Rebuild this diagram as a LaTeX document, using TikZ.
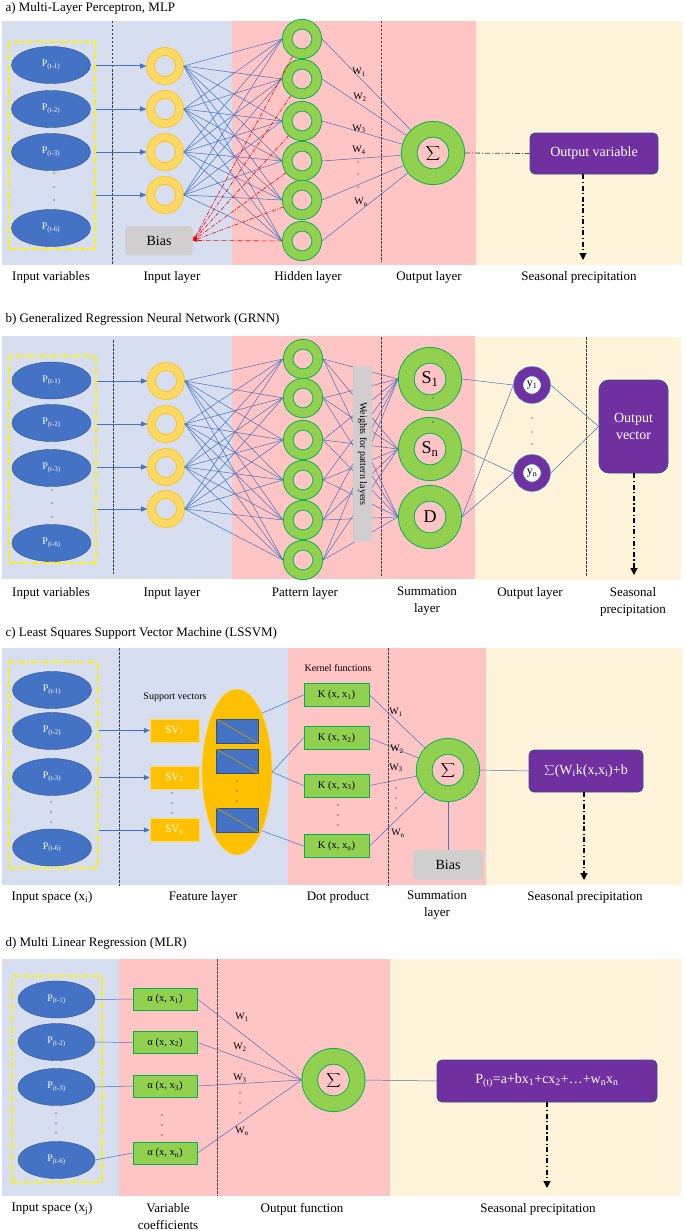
\documentclass[tikz,border=0pt]{standalone}
\usepackage{fontspec}
\setmainfont{Liberation Serif}
\usetikzlibrary{shapes.geometric,arrows.meta}

\definecolor{bgblue}{HTML}{D6DEEF}
\definecolor{bgpink}{HTML}{FFC4C4}
\definecolor{bgcream}{HTML}{FFF3D9}
\definecolor{ellblue}{HTML}{4472C4}
\definecolor{ellrim}{HTML}{2F528F}
\definecolor{ringyel}{HTML}{FFD966}
\definecolor{ringorg}{HTML}{FFC000}
\definecolor{ringgrn}{HTML}{92D050}
\definecolor{rimgrn}{HTML}{00B050}
\definecolor{boxpurp}{HTML}{7030A0}
\definecolor{boxgray}{HTML}{D0CECE}
\definecolor{wirebl}{HTML}{4472C4}

\newcommand{\bigsum}{{\fontsize{14}{14}\selectfont$\displaystyle\sum$}}

\tikzset{
	conn/.style={draw=wirebl, line width=0.5pt},
	feed/.style={draw=wirebl, line width=1pt, -{Triangle[length=6pt,width=5pt]}},
	biasline/.style={draw=red, line width=0.6pt, dash pattern=on 4pt off 1.5pt on 1pt off 1.5pt, -{Triangle[length=4pt,width=3pt]}},
	outflow/.style={draw=black, line width=1.2pt, dash pattern=on 5pt off 2.5pt on 1.2pt off 2.5pt, -{Triangle[length=7pt,width=7pt]}},
	linkline/.style={draw=black!70, line width=0.8pt, dash pattern=on 5pt off 2pt on 1pt off 2pt},
	sepline/.style={draw=black!75, line width=0.6pt, dash pattern=on 2.5pt off 1.5pt},
	pell/.style={ellipse, draw=ellrim, fill=ellblue, minimum width=79pt, minimum height=37pt, inner sep=0pt, text=white, font=\fontsize{10}{12}\selectfont},
	inframe/.style={draw=yellow, line width=1.2pt, dash pattern=on 6pt off 2pt on 1.5pt off 2pt, inner sep=0pt},
	yring/.style={circle, draw=ringorg, double=ringyel, double distance=7pt, line width=0.8pt, minimum size=29pt, inner sep=0pt, outer sep=4.3pt},
	gring/.style={circle, draw=rimgrn, double=ringgrn, double distance=8.8pt, line width=0.9pt, minimum size=29.5pt, inner sep=0pt, outer sep=5.3pt},
	sring/.style={circle, draw=rimgrn, double=ringgrn, double distance=14.8pt, line width=0.9pt, minimum size=47.5pt, inner sep=0pt, outer sep=8.3pt, font=\fontsize{18}{18}\selectfont},
	pring/.style={circle, draw=ellblue, fill=white, double=boxpurp, double distance=8.4pt, line width=0.8pt, minimum size=27.4pt, inner sep=0pt, outer sep=5pt, font=\fontsize{12}{12}\selectfont},
	outbox/.style={draw=ellrim, fill=boxpurp, rounded corners=5pt, text=white, font=\fontsize{14}{17}\selectfont, inner sep=0pt, line width=0.8pt, align=center},
	biasbox/.style={fill=boxgray, rounded corners=4pt, font=\fontsize{14}{16}\selectfont, inner sep=0pt},
	barbox/.style={fill=boxgray, rounded corners=2pt, font=\fontsize{10}{10}\selectfont, inner sep=0pt},
	svbox/.style={draw=ringyel, fill=ringorg, text=white, minimum width=49pt, minimum height=23pt, inner sep=0pt, font=\fontsize{11}{12}\selectfont},
	vecbox/.style={draw=ellrim, fill=ellblue, minimum width=42pt, minimum height=24pt, inner sep=0pt},
	diag/.style={draw=ringorg!80!black, line width=0.7pt},
	kbox/.style={draw=rimgrn, fill=ringgrn, line width=1pt, minimum width=65pt, minimum height=23pt, inner sep=0pt, font=\fontsize{10.5}{12}\selectfont},
	lbl/.style={font=\fontsize{13}{17}\selectfont, align=center},
	ttl/.style={font=\fontsize{13}{15}\selectfont, anchor=west},
	wlbl/.style={font=\fontsize{10}{12}\selectfont, inner sep=0pt},
	smalltxt/.style={font=\fontsize{10}{12}\selectfont},
}

\begin{document}
\begin{tikzpicture}[x=1pt,y=-1pt]
	\useasboundingbox (0,0) rectangle (685,1231);

	% a) MLP
	\node[ttl] (ttlA) at (2,8) {a) Multi-Layer Perceptron, MLP};
	\fill[bgblue] (2,21) rectangle (232,265);
	\fill[bgpink] (232,21) rectangle (476,265);
	\fill[bgcream] (476,21) rectangle (682,265);
	\draw[sepline] (112,21) -- (112,265);
	\draw[sepline] (381,21) -- (381,262);
	\node[inframe, minimum width=86pt, minimum height=207pt] (frameA) at (52,145.5) {};
	\foreach \i/\y/\t in {1/65/1,2/109/2,3/152/3,4/228/6}
		\node[pell] (pA\i) at (51,\y) {P\textsubscript{(t-\t)}};
	\foreach \y in {173,187,200} \fill (54,\y) circle (0.7pt);
	\foreach \i/\y in {1/66,2/109,3/152,4/195} {
		\node[yring] (inA\i) at (165,\y) {};
		\draw[feed] (frameA.east |- inA\i) -- (inA\i.west);
	}
	\foreach \j/\y in {1/39,2/79,3/121,4/161,5/200,6/241}
		\node[gring] (hidA\j) at (302,\y) {};
	\foreach \i in {1,...,4}
		\foreach \j in {1,...,6}
			\draw[conn] (inA\i.east) -- (hidA\j.west);
	\node[biasbox, minimum width=68pt, minimum height=29pt] (biasA) at (159,240.5) {Bias};
	\foreach \j in {1,...,6} \draw[biasline] (hidA\j) -- (biasA.east);
	\node[sring] (sumA) at (433,153) {\bigsum};
	\foreach \j in {1,...,6} \draw[conn] (hidA\j.east) -- (sumA);
	\node[wlbl] (wA1) at (359,72) {W\textsubscript{1}};
	\node[wlbl] (wA2) at (360,97) {W\textsubscript{2}};
	\node[wlbl] (wA3) at (359,129) {W\textsubscript{3}};
	\node[wlbl] (wA4) at (359,150) {W\textsubscript{4}};
	\foreach \y in {162,174,187} \fill (358,\y) circle (0.6pt);
	\node[wlbl] (wA5) at (361,202) {W\textsubscript{n}};
	\node[outbox, minimum width=128pt, minimum height=41pt] (outA) at (594,153.5) {Output variable};
	\draw[linkline] (sumA.east) -- (outA.west);
	\coordinate (endA) at (583,260);
	\draw[outflow] (outA.south -| endA) -- (endA);
	\node[lbl] (lA1) at (51,277) {Input variables};
	\node[lbl] (lA2) at (172,277) {Input layer};
	\node[lbl] (lA3) at (308,277) {Hidden layer};
	\node[lbl] (lA4) at (429,277) {Output layer};
	\node[lbl] (lA5) at (579,277) {Seasonal precipitation};

	% b) GRNN
	\node[ttl] (ttlB) at (2,319) {b) Generalized Regression Neural Network (GRNN)};
	\fill[bgblue] (2,336) rectangle (232,579);
	\fill[bgpink] (232,336) rectangle (475,579);
	\fill[bgcream] (475,337) rectangle (681,580);
	\draw[sepline] (113,340) -- (113,574);
	\draw[sepline] (381,337) -- (381,577);
	\draw[sepline] (586,337) -- (586,577);
	\node[inframe, minimum width=87pt, minimum height=207pt] (frameB) at (52.5,459.5) {};
	\foreach \i/\y/\t in {1/380.5/1,2/423/2,3/468/3,4/543/6}
		\node[pell] (pB\i) at (51.5,\y) {P\textsubscript{(t-\t)}};
	\foreach \y in {490,503,517} \fill (52,\y) circle (0.7pt);
	\foreach \i/\y in {1/381,2/424,3/467,4/509} {
		\node[yring] (inB\i) at (166,\y) {};
		\draw[feed] (frameB.east |- inB\i) -- (inB\i.west);
	}
	\foreach \j/\y in {1/359,2/398,3/440,4/480,5/520,6/560}
		\node[gring] (patB\j) at (303,\y) {};
	\foreach \i in {1,...,4}
		\foreach \j in {1,...,6}
			\draw[conn] (inB\i.east) -- (patB\j.west);
	\node[sring] (sB1) at (430,379) {S\textsubscript{1}};
	\node[sring] (sB2) at (430,449) {S\textsubscript{n}};
	\node[sring] (sB3) at (430,517) {D};
	\foreach \y in {398,422} \fill (433,\y) circle (0.6pt);
	\foreach \j in {1,...,6}
		\foreach \k in {1,2,3}
			\draw[conn] (patB\j.east) -- (sB\k.west);
	\node[barbox, rotate=-90, minimum width=176pt, minimum height=19pt] (wbarB) at (362.5,454) {Weights for pattern layers};
	\node[pring] (yB1) at (532,385) {y\textsubscript{1}};
	\node[pring] (yB2) at (532,473) {y\textsubscript{n}};
	\foreach \y in {418,432,444} \fill (532,\y) circle (0.6pt);
	\draw[conn] (sB1.east) -- (yB1.west);
	\draw[conn] (sB2.east) -- (yB2.west);
	\draw[conn] (sB3.east) -- (yB1.west);
	\draw[conn] (sB3.east) -- (yB2.west);
	\node[outbox, rounded corners=10pt, minimum width=69pt, minimum height=93pt] (vecB) at (633.5,426.5) {Output\\vector};
	\draw[conn] (yB1.east) -- (vecB.west);
	\draw[conn] (yB2.east) -- (vecB.west);
	\coordinate (endB) at (634,575);
	\draw[outflow] (vecB.south -| endB) -- (endB);
	\node[lbl] (lB1) at (51,593) {Input variables};
	\node[lbl] (lB2) at (172,593) {Input layer};
	\node[lbl] (lB3) at (305,593) {Pattern layer};
	\node[lbl] (lB4) at (427,601.5) {Summation\\layer};
	\node[lbl] (lB5) at (530,593) {Output layer};
	\node[lbl] (lB6) at (633,601.5) {Seasonal\\precipitation};

	% c) LSSVM
	\node[ttl] (ttlC) at (2,633) {c) Least Squares Support Vector Machine (LSSVM)};
	\fill[bgblue] (2,648) rectangle (288,885);
	\fill[bgpink] (288,648) rectangle (486,885);
	\fill[bgcream] (486,648) rectangle (682,885);
	\draw[sepline] (119,648) -- (119,886);
	\draw[sepline] (388,648) -- (388,886);
	\node[inframe, minimum width=89pt, minimum height=206pt] (frameC) at (53.5,765) {};
	\foreach \i/\y/\t in {1/690/1,2/731/2,3/777/3,4/847.5/6}
		\node[pell] (pC\i) at (52,\y) {P\textsubscript{(t-\t)}};
	\foreach \y in {802,812,822} \fill (51,\y) circle (0.7pt);
	\node[smalltxt] (svtxt) at (175,697) {Support vectors};
	\foreach \i/\y/\s in {1/730.5/1,2/777.5/2,3/830/n} {
		\node[svbox] (svC\i) at (174.5,\y) {SV\textsubscript{\s}};
		\draw[feed] (frameC.east |- svC\i) -- (svC\i.west);
	}
	\foreach \y in {793,803,813} \fill (172,\y) circle (0.6pt);
	\node[ellipse, fill=ringorg, draw=ringyel, minimum width=70pt, minimum height=166pt] (svell) at (237,772) {};
	\foreach \i/\y in {1/731,2/761,3/820} {
		\node[vecbox] (svr\i) at (237,\y) {};
		\draw[diag] (svr\i.north west) -- (svr\i.south east);
	}
	\foreach \y in {781,791,801} \fill (237,\y) circle (0.6pt);
	\node[smalltxt] (kertxt) at (338,668) {Kernel functions};
	\foreach \i/\y/\s in {1/695/1,2/738/2,3/785.5/3,4/846/n}
		\node[kbox] (kC\i) at (336.5,\y) {K (x, x\textsubscript{\s})};
	\foreach \y in {805,815,825} \fill (338,\y) circle (0.6pt);
	\draw[conn] (svell.67) -- (kC1.west);
	\draw[conn] (svell.east) -- (kC2.west);
	\draw[conn] (svell.east) -- (kC3.west);
	\draw[conn] (svell.-67) -- (kC4.west);
	\node[sring] (sumC) at (448,770) {\bigsum};
	\foreach \i in {1,...,4} \draw[conn] (kC\i.east) -- (sumC);
	\node[wlbl] (wC1) at (396,712) {W\textsubscript{1}};
	\node[wlbl] (wC2) at (397,749) {W\textsubscript{2}};
	\node[wlbl] (wC3) at (396,768) {W\textsubscript{3}};
	\foreach \y in {788,798,808} \fill (396,\y) circle (0.6pt);
	\node[wlbl] (wC4) at (398,833) {W\textsubscript{n}};
	\node[biasbox, minimum width=70pt, minimum height=30pt] (biasC) at (448,865) {Bias};
	\draw[conn] (sumC.south) -- (biasC.north);
	\node[outbox, minimum width=114pt, minimum height=42pt] (outC) at (586,771) {$\sum$(W\textsubscript{i}k(x,x\textsubscript{i})+b};
	\draw[conn] (sumC.east) -- (outC.west);
	\coordinate (endC) at (584,880);
	\draw[outflow] (outC.south -| endC) -- (endC);
	\node[lbl] (lC1) at (52,897) {Input space (x\textsubscript{i})};
	\node[lbl] (lC2) at (203,897) {Feature layer};
	\node[lbl] (lC3) at (338,897) {Dot product};
	\node[lbl] (lC4) at (437,905.5) {Summation\\layer};
	\node[lbl] (lC5) at (585,897) {Seasonal precipitation};

	% d) MLR
	\node[ttl] (ttlD) at (2,943) {d) Multi Linear Regression (MLR)};
	\fill[bgblue] (2,959) rectangle (119,1196);
	\fill[bgpink] (119,959) rectangle (390,1196);
	\fill[bgcream] (390,959) rectangle (681,1196);
	\draw[sepline] (217,959) -- (217,1196);
	\node[inframe, minimum width=90pt, minimum height=206pt] (frameD) at (57,1079) {};
	\foreach \i/\y/\t in {1/999.5/1,2/1042/2,3/1087/3,4/1160/6}
		\node[pell, minimum width=77pt] (pD\i) at (56.5,\y) {P\textsubscript{(t-\t)}};
	\foreach \y in {1113,1123,1133} \fill (56,\y) circle (0.7pt);
	\foreach \i/\y/\s in {1/999/1,2/1042.5/2,3/1086/3,4/1153/n} {
		\node[kbox, minimum width=64pt, minimum height=22pt] (aD\i) at (165,\y) {α (x, x\textsubscript{\s})};
		\draw[conn] (pD\i.east) -- (aD\i.west);
	}
	\foreach \y in {1115,1125,1135} \fill (162,\y) circle (0.6pt);
	\node[sring] (sumD) at (333.5,1080) {\bigsum};
	\foreach \i in {1,...,4} \draw[conn] (aD\i.east) -- (sumD.west);
	\node[wlbl] (wD1) at (242,1017) {W\textsubscript{1}};
	\node[wlbl] (wD2) at (240,1047) {W\textsubscript{2}};
	\node[wlbl] (wD3) at (240,1078) {W\textsubscript{3}};
	\foreach \y in {1093,1103,1113} \fill (240,\y) circle (0.6pt);
	\node[wlbl] (wD4) at (242,1131) {W\textsubscript{n}};
	\node[outbox, minimum width=220pt, minimum height=42pt] (outD) at (547,1081) {P\textsubscript{(t)}=a+bx\textsubscript{1}+cx\textsubscript{2}+…+w\textsubscript{n}x\textsubscript{n}};
	\draw[conn] (sumD.east) -- (outD.west);
	\coordinate (endD) at (547,1188);
	\draw[outflow] (outD.south -| endD) -- (endD);
	\node[lbl] (lD1) at (52,1209) {Input space (x\textsubscript{j})};
	\node[lbl] (lD2) at (168,1217) {Variable\\coefficients};
	\node[lbl] (lD3) at (302,1209) {Output function};
	\node[lbl] (lD4) at (538,1209) {Seasonal precipitation};
\end{tikzpicture}
\end{document}
